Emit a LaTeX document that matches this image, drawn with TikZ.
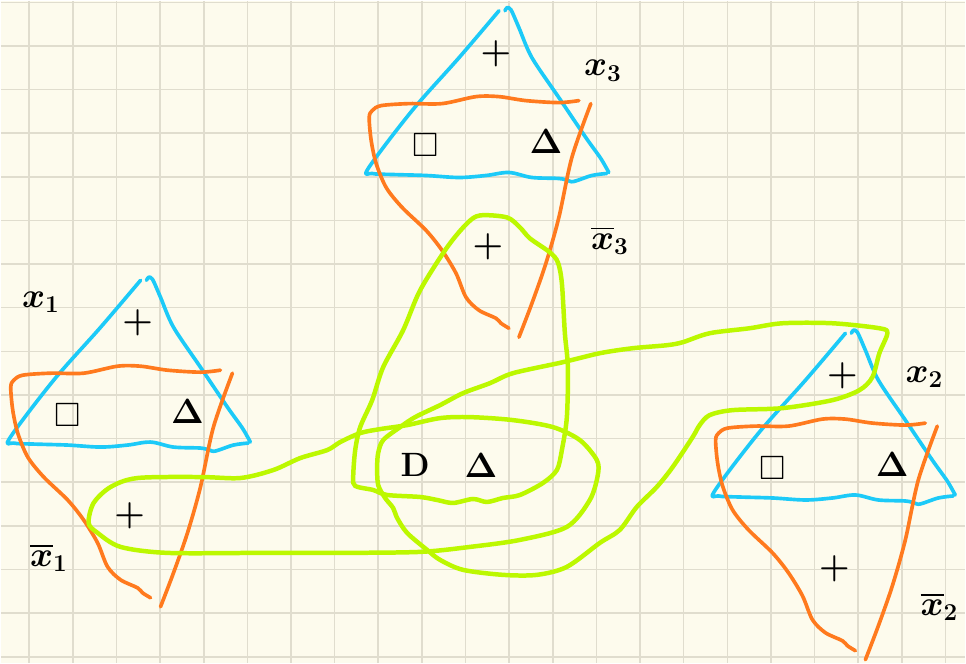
\documentclass[tikz,border=0pt]{standalone}
\usepackage{amssymb}
\definecolor{paper}{RGB}{253,251,237}
\definecolor{gridgray}{RGB}{224,221,206}
\definecolor{penblue}{RGB}{28,202,248}
\definecolor{penorange}{RGB}{255,122,30}
\definecolor{pengreen}{RGB}{188,248,0}

\begin{document}
\begin{tikzpicture}[x=0.025cm, y=-0.025cm,
    gridline/.style={gridgray, line width=1.1pt},
    bluepen/.style={penblue, line width=2.6pt, line cap=round, line join=round},
    orangepen/.style={penorange, line width=2.6pt, line cap=round, line join=round},
    greenpen/.style={pengreen, line width=3.2pt, line cap=round, line join=round},
    sym/.style={font=\fontsize{24}{24}\selectfont\bfseries\boldmath, inner sep=0pt},
    lbl/.style={font=\fontsize{26}{26}\selectfont\boldmath, inner sep=0pt}]

    % Draw the paper with its grid
    \fill[paper] (0,0) rectangle (966,663);
    \foreach \k in {0,...,21}
        \draw[gridline] (28.5+43.7*\k,0) -- (28.5+43.7*\k,663);
    \foreach \k in {0,...,15}
        \draw[gridline] (0,1.5+43.7*\k) -- (966,1.5+43.7*\k);
    \useasboundingbox (0,0) rectangle (966,663);

    % Three groups: triangle x_i (blue) and its complement (orange)
    \foreach \gx/\gy/\i/\lx/\ly/\bx/\by in {147/278/1/-107/24/-99/280, 506/8/3/97/62/104/232, 853/331/2/72/46/87/276}
        {
            \begin{scope}[shift={(\gx,\gy)}]
                \draw[bluepen] plot[smooth, tension=0.55] coordinates {(-7,2) (-47,49) (-94,102) (-138,160) (-134,165)
                        (-114,166) (-80,167) (-47,169) (-20,167) (3,164) (26,169) (53,170) (62,172) (68,173) (86,167) (101,165)};
                \draw[bluepen] plot[smooth] coordinates {(-1,2) (1,-1) (5,1) (13,19) (26,49) (53,89) (80,129) (95,150) (103,164)};

                \draw[orangepen] plot[smooth] coordinates {(73,92) (53,94) (20,92) (-7,88) (-30,88) (-64,95) (-97,95)
                        (-125,97) (-134,102) (-137,109) (-135,132) (-130,155) (-120,179) (-104,199) (-80,222) (-64,242)
                        (-50,265) (-40,289) (-27,302) (-10,310) (-5,315) (3,320)};
                \draw[orangepen] plot[smooth] coordinates {(85,95) (66,149) (53,209) (40,255) (26,295) (13,329)};

                \node[sym] (top\i) at (-10,45) {$+$};
                \node[sym] (sq\i) at (-80,137) {$\square$};
                \node[sym] (tri\i) at (40,133) {$\Delta$};
                \node[sym] (low\i) at (-18,238) {$+$};
                \node[lbl] (x\i) at (\lx,\ly) {$x_{\i}$};
                \node[lbl] (xbar\i) at (\bx,\by) {$\overline{x}_{\i}$};
            \end{scope}
        }

    % Green loops
    \draw[greenpen] plot[smooth cycle] coordinates {(480,215) (507,217) (520,227) (530,238) (550,252) (558,262)
            (562,283) (565,333) (568,367) (567,417) (562,450) (557,470) (543,483) (520,495) (503,498) (487,502)
            (473,499) (453,503) (437,500) (420,497) (387,495) (373,490) (355,486) (353,477) (355,450) (360,427)
            (372,400) (383,367) (403,330) (420,290) (447,247) (467,223)};
    \draw[greenpen] plot[smooth cycle] coordinates {(240,478) (273,470) (300,458) (327,450) (340,442) (360,433)
            (380,429) (407,425) (440,418) (470,417) (513,420) (553,427) (580,440) (597,460) (598,475) (590,500)
            (567,527) (520,540) (470,547) (420,552) (340,553) (260,553) (167,553) (120,547) (97,533) (88,523)
            (93,503) (110,487) (137,478) (200,477)};
    \draw[greenpen] plot[smooth cycle] coordinates {(888,333) (880,353) (873,377) (860,390) (833,400) (783,408)
            (733,410) (710,415) (700,425) (693,437) (673,467) (657,487) (637,507) (620,530) (600,543) (567,567)
            (537,575) (503,575) (463,570) (440,560) (427,550) (407,533) (397,518) (393,508) (385,498) (378,485)
            (377,467) (378,453) (383,440) (400,427) (415,417) (440,405) (463,393) (490,383) (513,373) (563,362)
            (600,353) (633,348) (667,345) (683,342) (710,333) (750,328) (783,323) (833,323) (880,328)};

    % Middle pair
    \node[sym] (midD) at (415,465) {D};
    \node[sym] (midT) at (481,465) {$\Delta$};

\end{tikzpicture}
\end{document}
